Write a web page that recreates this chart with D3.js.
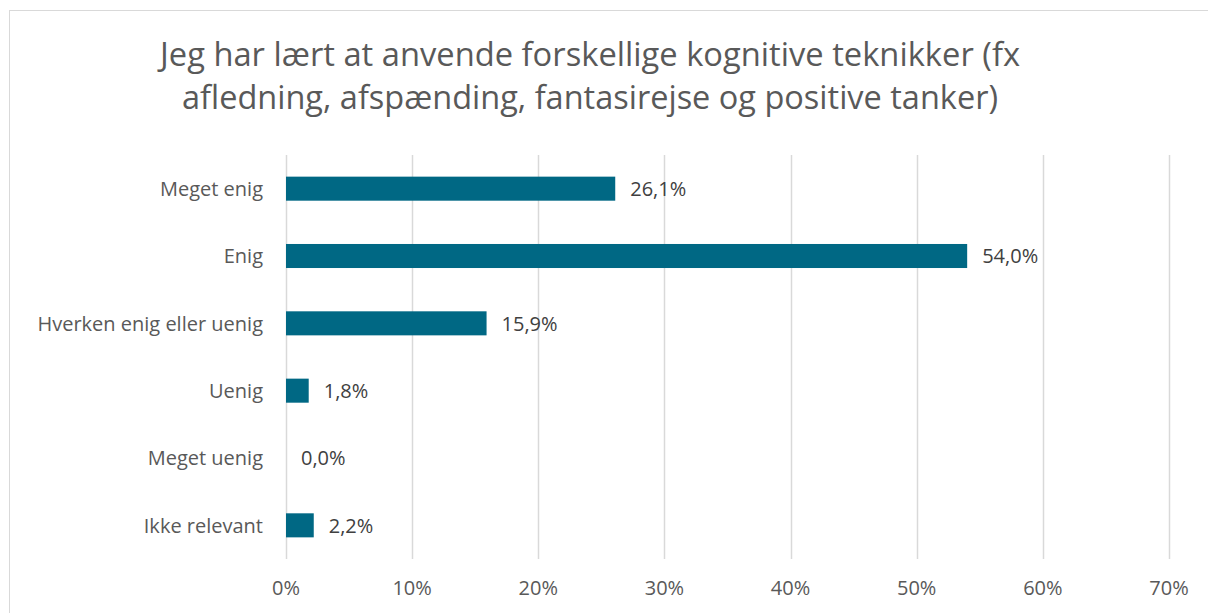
<!DOCTYPE html>
<html><head><meta charset="utf-8">
<script src="https://cdn.jsdelivr.net/npm/d3@7"></script>
<style>body{margin:0;background:#fff}svg{display:block}</style>
</head><body>
<svg id="c" width="1208" height="613"></svg>
<script>
const titleLines = ["Jeg har lært at anvende forskellige kognitive teknikker (fx", "afledning, afspænding, fantasirejse og positive tanker)"];
const categories = ["Meget enig", "Enig", "Hverken enig eller uenig", "Uenig", "Meget uenig", "Ikke relevant"];
const values = [26.1, 54.0, 15.9, 1.8, 0.0, 2.2];
const ticks = [0, 10, 20, 30, 40, 50, 60, 70];

const svg = d3.select("#c");
const font = "'Open Sans', sans-serif";
const txt = "#595959";

svg.append("rect").attr("x", 9.5).attr("y", 10.5).attr("width", 1220).attr("height", 620)
  .attr("fill", "#fff").attr("stroke", "#d9d9d9").attr("stroke-width", 1);

const x = d3.scaleLinear().domain([0, 70]).range([286, 1169]);
const y = d3.scaleBand().domain(categories).range([155, 559]).paddingInner(0.643).paddingOuter(0.3215);

svg.append("g").selectAll("line").data(ticks).join("line")
  .attr("x1", d => Math.round(x(d)) + 0.5).attr("x2", d => Math.round(x(d)) + 0.5)
  .attr("y1", 155).attr("y2", 559).attr("stroke", "#d9d9d9").attr("stroke-width", 1.5);

svg.append("g").selectAll("rect").data(values).join("rect")
  .attr("x", x(0)).attr("y", (d, i) => y(categories[i]))
  .attr("width", d => x(d) - x(0)).attr("height", y.bandwidth())
  .attr("fill", "#006884");

svg.append("g").selectAll("text").data(values).join("text")
  .attr("x", d => x(d) + 15).attr("y", (d, i) => y(categories[i]) + y.bandwidth() / 2)
  .attr("dy", "0.36em").attr("font-family", font).attr("font-size", 20).attr("fill", "#404040")
  .text(d => d.toFixed(1).replace(".", ",") + "%");

svg.append("g").selectAll("text").data(categories).join("text")
  .attr("x", 263).attr("y", d => y(d) + y.bandwidth() / 2)
  .attr("dy", "0.36em").attr("text-anchor", "end").attr("font-family", font).attr("font-size", 20).attr("fill", txt)
  .text(d => d);

svg.append("g").selectAll("text").data(ticks).join("text")
  .attr("x", d => x(d)).attr("y", 588).attr("dy", "0.36em").attr("text-anchor", "middle")
  .attr("font-family", font).attr("font-size", 20).attr("fill", txt)
  .text(d => d + "%");

const titleW = [860, 816];
svg.append("g").selectAll("text").data(titleLines).join("text")
  .attr("x", 590).attr("y", (d, i) => 66 + i * 43).attr("text-anchor", "middle")
  .attr("font-family", font).attr("font-size", 32).attr("fill", txt)
  .attr("textLength", (d, i) => titleW[i]).attr("lengthAdjust", "spacingAndGlyphs")
  .text(d => d);
</script>
</body></html>
